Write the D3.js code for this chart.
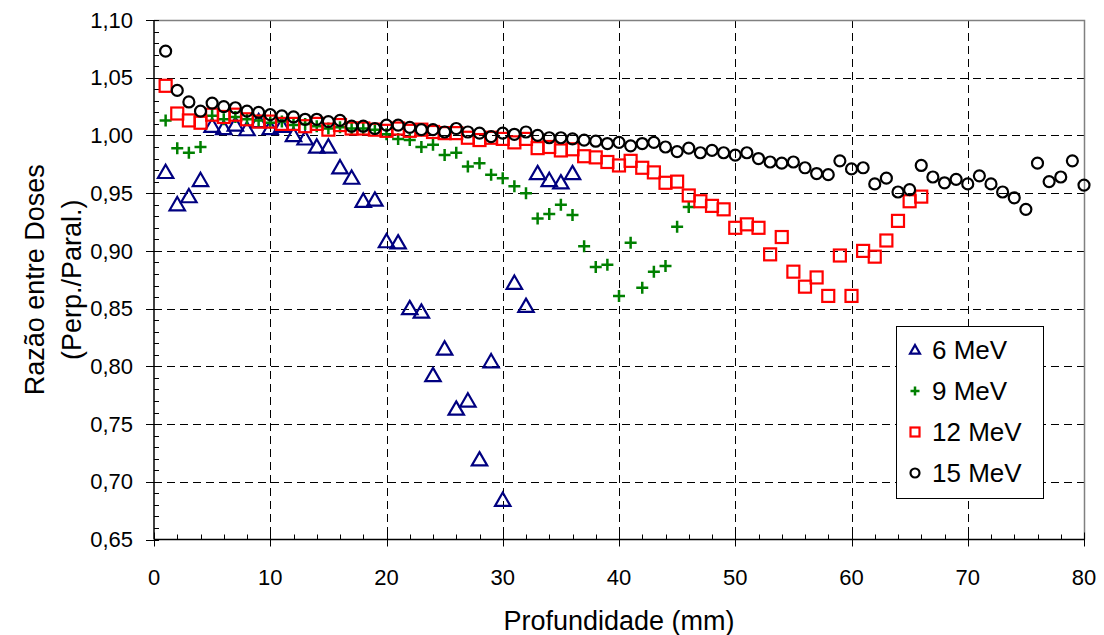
<!DOCTYPE html>
<html>
<head>
<meta charset="utf-8">
<script src="https://cdn.jsdelivr.net/npm/d3@7"></script>
<style>
  body { margin: 0; background: #fff; }
  text { font-family: "Liberation Sans", Arial, sans-serif; fill: #000; }
  .grid { stroke: #000; stroke-width: 1; stroke-dasharray: 8,5; }
</style>
</head>
<body>
<script>
// Razao entre doses vs profundidade chart

// *************************************************** //
// chart data (depth in mm is the index + 1)
var mev6 = [0.968, 0.940, 0.947, 0.961, 1.008, 1.006, 1.009, 1.005, 1.012, 1.006,
            1.008, 1.000, 0.997, 0.990, 0.990, 0.972, 0.963, 0.943, 0.944, 0.908,
            0.907, 0.850, 0.847, 0.792, 0.815, 0.763, 0.770, 0.719, 0.804, 0.684,
            0.872, 0.852, 0.967, 0.961, 0.959, 0.967];

var mev9 = [1.013, 0.989, 0.985, 0.990, 1.017, 1.014, 1.016, 1.014, 1.013, 1.011,
            1.012, 1.009, 1.010, 1.008, 1.006, 1.007, 1.006, 1.006, 1.005, 1.001,
            0.997, 0.996, 0.990, 0.992, 0.983, 0.985, 0.973, 0.976, 0.966, 0.963,
            0.956, 0.950, 0.928, 0.932, 0.940, 0.931, 0.904, 0.886, 0.888, 0.861,
            0.907, 0.868, 0.882, 0.887, 0.921, 0.938];

var mev12 = [1.043, 1.019, 1.013, 1.011, 1.018, 1.016, 1.018, 1.014, 1.012, 1.012,
             1.010, 1.010, 1.008, 1.010, 1.005, 1.009, 1.006, 1.006, 1.005, 1.004,
             1.006, 1.004, 1.005, 1.003, 1.002, 1.002, 0.998, 0.996, 0.998, 0.997,
             0.994, 0.997, 0.989, 0.990, 0.987, 0.988, 0.982, 0.981, 0.977, 0.974,
             0.978, 0.972, 0.968, 0.959, 0.960, 0.948, 0.943, 0.939, 0.936, 0.920,
             0.923, 0.920, 0.897, 0.912, 0.882, 0.869, 0.877, 0.861, 0.896, 0.861,
             0.900, 0.895, 0.909, 0.926, 0.943, 0.947];

var mev15 = [1.073, 1.039, 1.029, 1.021, 1.028, 1.025, 1.024, 1.021, 1.020, 1.018,
             1.017, 1.016, 1.014, 1.014, 1.012, 1.013, 1.008, 1.008, 1.006, 1.009,
             1.009, 1.007, 1.005, 1.005, 1.003, 1.006, 1.003, 1.002, 0.999, 1.002,
             1.001, 1.003, 1.000, 0.998, 0.998, 0.997, 0.996, 0.995, 0.993, 0.994,
             0.991, 0.993, 0.994, 0.990, 0.986, 0.989, 0.985, 0.987, 0.985, 0.983,
             0.985, 0.980, 0.977, 0.976, 0.977, 0.972, 0.967, 0.966, 0.978, 0.971,
             0.972, 0.958, 0.963, 0.951, 0.953, 0.974, 0.964, 0.959, 0.962, 0.958,
             0.965, 0.958, 0.951, 0.946, 0.936, 0.976, 0.960, 0.964, 0.978, 0.957];

var seriesNames = ["6 MeV", "9 MeV", "12 MeV", "15 MeV"];
var xTicks = [0, 10, 20, 30, 40, 50, 60, 70, 80];
var yTicks = [0.65, 0.70, 0.75, 0.80, 0.85, 0.90, 0.95, 1.00, 1.05, 1.10];

(function(){
  var width = 1104,
      height = 635;
  var left = 154, right = 1084, top = 20, bottom = 539.5;

  var svg = d3.select("body").append("svg")
    .attr("width", width)
    .attr("height", height);

  var x = d3.scaleLinear().domain([0, 80]).range([left, right]);
  var y = d3.scaleLinear().domain([0.65, 1.10]).range([bottom, top]);

  var fmt = function(v){ return d3.format(".2f")(v).replace(".", ","); };

  // *************************************************** //
  // gridlines
  svg.selectAll(".hgrid")
    .data(yTicks.filter(function(t){ return t > 0.65 && t < 1.10; }))
    .enter().append("line")
    .attr("class", "grid")
    .attr("x1", left).attr("x2", right)
    .attr("y1", function(d){ return Math.round(y(d)) + 0.5; })
    .attr("y2", function(d){ return Math.round(y(d)) + 0.5; });

  svg.selectAll(".vgrid")
    .data(xTicks.filter(function(t){ return t > 0 && t < 80; }))
    .enter().append("line")
    .attr("class", "grid")
    .attr("y1", top).attr("y2", bottom)
    .attr("x1", function(d){ return Math.round(x(d)) + 0.5; })
    .attr("x2", function(d){ return Math.round(x(d)) + 0.5; });

  // top and right border
  svg.append("path")
    .attr("d", "M" + left + "," + (top + 0.5) + "H" + (right + 0.5) + "V" + bottom)
    .attr("fill", "none")
    .attr("stroke", "#808080").attr("stroke-width", 1.5);

  // *************************************************** //
  // axes: major ticks outside, minor ticks inside
  var yMinor = d3.range(0.65, 1.1001, 0.01);
  var xMinor = d3.range(0, 80.001, 2);

  var gy = svg.append("g");
  gy.append("line")
    .attr("x1", left).attr("x2", left).attr("y1", top).attr("y2", bottom)
    .attr("stroke", "#000").attr("stroke-width", 1.5);
  gy.selectAll(".ym").data(yMinor).enter().append("line")
    .attr("x1", left).attr("x2", left + 5)
    .attr("y1", function(d){ return Math.round(y(d)) + 0.5; })
    .attr("y2", function(d){ return Math.round(y(d)) + 0.5; })
    .attr("stroke", "#000");
  gy.selectAll(".yM").data(yTicks).enter().append("line")
    .attr("x1", left - 8).attr("x2", left)
    .attr("y1", function(d){ return Math.round(y(d)) + 0.5; })
    .attr("y2", function(d){ return Math.round(y(d)) + 0.5; })
    .attr("stroke", "#000");
  gy.selectAll(".ylab").data(yTicks).enter().append("text")
    .attr("x", left - 21)
    .attr("y", function(d){ return y(d); })
    .attr("dy", "0.35em")
    .attr("text-anchor", "end")
    .style("font-size", "22px")
    .text(fmt);

  var gx = svg.append("g");
  gx.append("line")
    .attr("x1", left).attr("x2", right).attr("y1", bottom).attr("y2", bottom)
    .attr("stroke", "#000").attr("stroke-width", 1.5);
  gx.selectAll(".xm").data(xMinor).enter().append("line")
    .attr("y1", bottom).attr("y2", bottom - 5)
    .attr("x1", function(d){ return Math.round(x(d)) + 0.5; })
    .attr("x2", function(d){ return Math.round(x(d)) + 0.5; })
    .attr("stroke", "#000");
  gx.selectAll(".xM").data(xTicks).enter().append("line")
    .attr("y1", bottom - 7).attr("y2", bottom + 7)
    .attr("x1", function(d){ return Math.round(x(d)) + 0.5; })
    .attr("x2", function(d){ return Math.round(x(d)) + 0.5; })
    .attr("stroke", "#000");
  gx.selectAll(".xlab").data(xTicks).enter().append("text")
    .attr("x", function(d){ return x(d); })
    .attr("y", 585)
    .attr("text-anchor", "middle")
    .style("font-size", "22px")
    .text(function(d){ return d; });

  // axis titles
  svg.append("text")
    .attr("x", (left + right) / 2)
    .attr("y", 630)
    .attr("text-anchor", "middle")
    .style("font-size", "27px")
    .text("Profundidade (mm)");

  var ty = svg.append("text")
    .attr("transform", "translate(0," + ((top + bottom) / 2) + ") rotate(-90)")
    .attr("text-anchor", "middle")
    .style("font-size", "27px");
  ty.append("tspan").attr("x", 0).attr("y", 44).text("Razão entre Doses");
  ty.append("tspan").attr("x", 0).attr("y", 81).text("(Perp./Paral.)");

  // *************************************************** //
  // marker shapes
  function drawMarker(g, kind, s){
    if (kind == 0){
      g.append("path")
        .attr("d", "M0," + (-s * 0.55) + "L" + (s * 0.55) + "," + (s * 0.4) + "L" + (-s * 0.55) + "," + (s * 0.4) + "Z")
        .attr("fill", "none").attr("stroke", "#000080").attr("stroke-width", 2.2);
    } else if (kind == 1){
      g.append("path")
        .attr("d", "M" + (-s / 2) + ",0H" + (s / 2) + "M0," + (-s / 2) + "V" + (s / 2))
        .attr("stroke", "#008000").attr("stroke-width", 2.5);
    } else if (kind == 2){
      g.append("rect")
        .attr("x", -s / 2).attr("y", -s / 2).attr("width", s).attr("height", s)
        .attr("fill", "none").attr("stroke", "#ff0000").attr("stroke-width", 2.2);
    } else {
      g.append("circle")
        .attr("r", s / 2)
        .attr("fill", "none").attr("stroke", "#000").attr("stroke-width", 2.2);
    }
  }

  var allSeries = [mev6, mev9, mev12, mev15];
  var sizes = [14, 12, 12, 11];

  allSeries.forEach(function(vals, k){
    svg.append("g").selectAll("g")
      .data(vals)
      .enter().append("g")
      .attr("transform", function(d, i){ return "translate(" + x(i + 1) + "," + y(d) + ")"; })
      .each(function(){ drawMarker(d3.select(this), k, sizes[k]); });
  });

  // *************************************************** //
  // legend
  var leg = svg.append("g");
  leg.append("rect")
    .attr("x", 896.5).attr("y", 326.5).attr("width", 147).attr("height", 172)
    .attr("fill", "#fff").attr("stroke", "#000").attr("stroke-width", 1);
  seriesNames.forEach(function(name, k){
    var ly = 350 + k * 41;
    var g = leg.append("g").attr("transform", "translate(915," + ly + ")");
    drawMarker(g, k, 9);
    leg.append("text")
      .attr("x", 932).attr("y", ly)
      .attr("dy", "0.36em")
      .style("font-size", "26px")
      .text(name);
  });
})();
</script>
</body>
</html>
